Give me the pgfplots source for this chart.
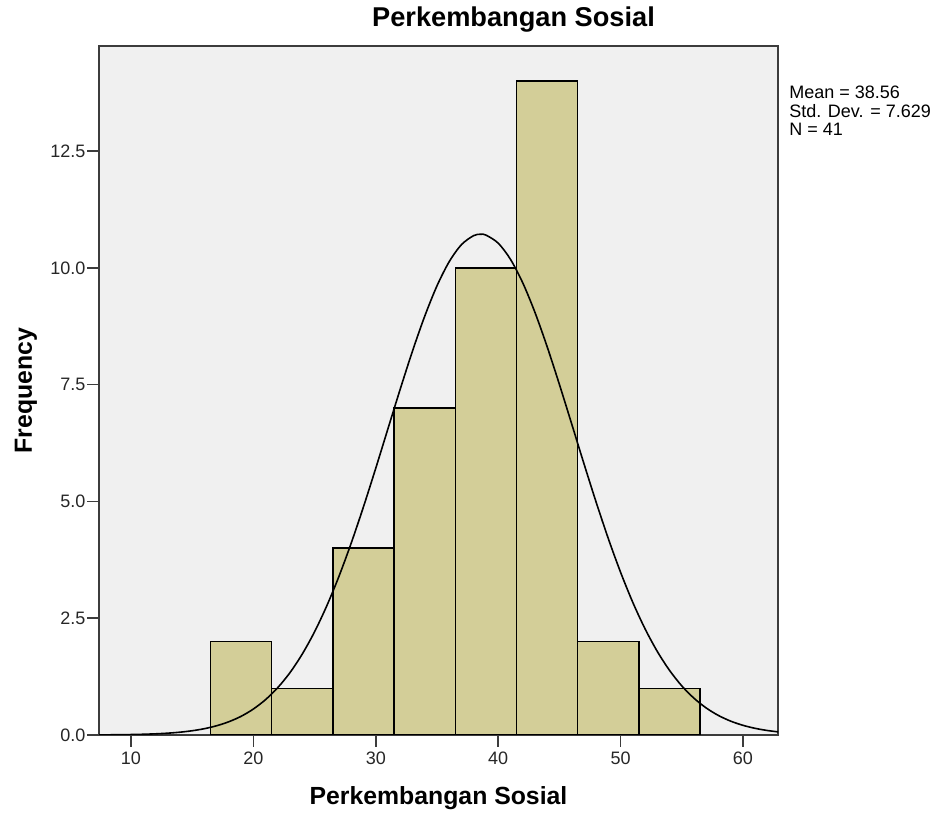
\documentclass[border=0pt]{standalone}
\usepackage{fontspec}
\setmainfont{Liberation Sans}
\usepackage{pgfplots}
\pgfplotsset{compat=1.18}
\definecolor{barfill}{RGB}{211,206,152}
\definecolor{bgc}{RGB}{240,240,240}
\definecolor{frame}{RGB}{60,60,60}
\begin{document}
\begin{tikzpicture}
\path[use as bounding box] (0,0) rectangle (700.5pt,612pt);
\begin{axis}[
  at={(74.25pt,60.75pt)}, anchor=south west,
  scale only axis, width=509.25pt, height=516.75pt,
  xmin=7.39, xmax=62.86, ymin=0, ymax=14.75,
  axis background/.style={fill=bgc},
  axis line style={draw=frame, line width=1.1pt},
  every tick/.style={draw=frame, line width=1.1pt},
  tick align=outside, major tick length=9pt,
  xtick pos=bottom, ytick pos=left,
  xtick={10,20,30,40,50,60},
  ytick={0,2.5,5,7.5,10,12.5},
  yticklabel style={/pgf/number format/fixed, /pgf/number format/fixed zerofill, /pgf/number format/precision=1, inner xsep=1pt},
  /pgf/number format/assume math mode=true,
  tick label style={font=\fontsize{13.5}{16}\selectfont, text=black!85},
  title={Perkembangan Sosial},
  title style={font=\fontsize{20.4}{24}\selectfont\bfseries, anchor=base, at={(0.6105,1.016)}},
  xlabel={Perkembangan Sosial},
  xlabel style={font=\fontsize{18.6}{22}\selectfont\bfseries, anchor=base, at={(0.5,-0.1016)}},
  ylabel={Frequency},
  ylabel style={font=\fontsize{18.6}{22}\selectfont\bfseries, anchor=base, at={(-0.0987,0.5)}},
  clip mode=individual,
]
\addplot[ybar interval, fill=barfill, draw=black, line width=1.1pt]
  coordinates {(16.5,2) (21.5,1) (26.5,4) (31.5,7) (36.5,10) (41.5,14) (46.5,2) (51.5,1) (56.5,1)};
\addplot[smooth, black, line width=1.2pt, mark=none] coordinates {
(7,0.0021) (8,0.0035) (9,0.0059) (10,0.0097) (11,0.0157) (12,0.025) (13,0.039) (14,0.060)
(15,0.091) (16,0.135) (17,0.198) (18,0.284) (19,0.400) (20,0.556) (21,0.758) (22,1.016)
(23,1.338) (24,1.735) (25,2.209) (26,2.766) (27,3.401) (28,4.113) (29,4.889) (30,5.712)
(31,6.561) (32,7.406) (33,8.219) (34,8.966) (35,9.615) (36,10.133) (37,10.498) (38,10.691)
(38.56,10.72) (39,10.702) (40,10.530) (41,10.185) (42,9.684) (43,9.050) (44,8.313) (45,7.506)
(46,6.664) (47,5.814) (48,4.986) (49,4.202) (50,3.483) (51,2.837) (52,2.272) (53,1.788)
(54,1.383) (55,1.051) (56,0.786) (57,0.577) (58,0.417) (59,0.296) (60,0.207) (61,0.142)
(62,0.0956) (63,0.063)};
\node[anchor=base west, inner sep=0pt, font=\fontsize{13.5}{16}\selectfont] at (axis description cs:1.0162,0.9231) {Mean = 38.56};
\node[anchor=base west, inner sep=0pt, font=\fontsize{13.5}{16}\selectfont] at (axis description cs:1.0162,0.8962) {Std. Dev. = 7.629};
\node[anchor=base west, inner sep=0pt, font=\fontsize{13.5}{16}\selectfont] at (axis description cs:1.0162,0.8694) {N = 41};
\end{axis}
\end{tikzpicture}
\end{document}
